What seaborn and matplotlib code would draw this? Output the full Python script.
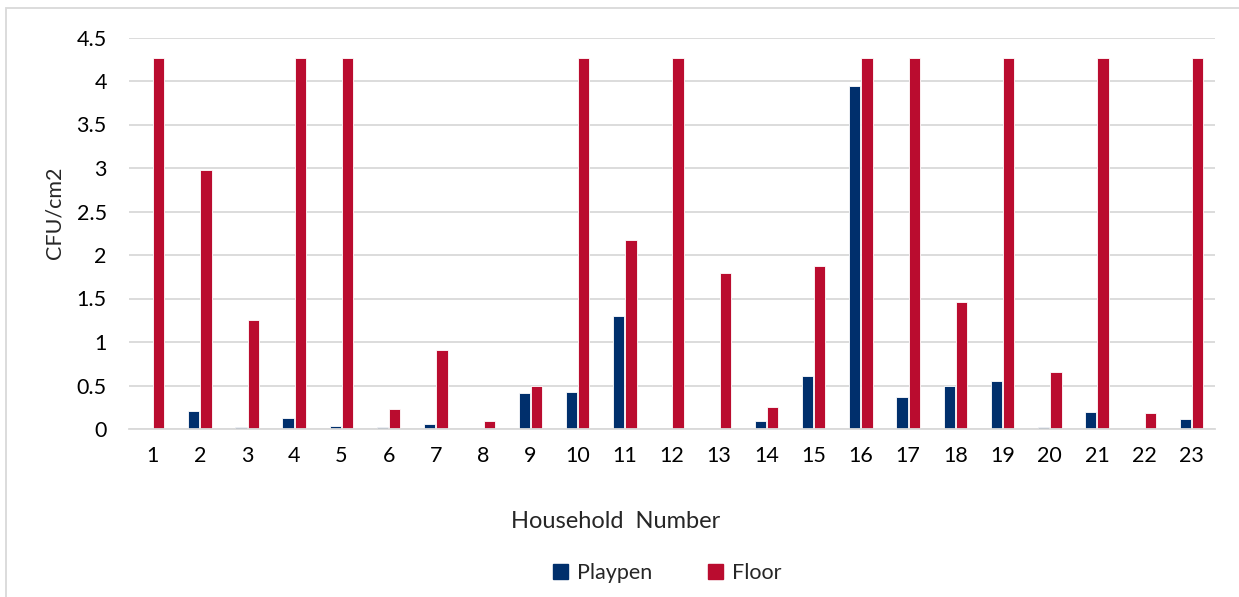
import matplotlib
matplotlib.use("Agg")
import matplotlib.pyplot as plt
import seaborn as sns
import pandas as pd
from matplotlib.patches import Rectangle

# CFU/cm2 measured per household, playpen vs floor surfaces
households = [str(i) for i in range(1, 24)]
playpen = [0.00, 0.21, 0.02, 0.13, 0.03, 0.02, 0.06, 0.00, 0.41, 0.43, 1.30, 0.00,
           0.00, 0.09, 0.61, 3.94, 0.37, 0.49, 0.55, 0.02, 0.19, 0.00, 0.12]
floor = [4.26, 2.98, 1.25, 4.26, 4.26, 0.23, 0.91, 0.09, 0.49, 4.26, 2.17, 4.26,
         1.79, 0.25, 1.87, 4.26, 4.26, 1.46, 4.26, 0.66, 4.26, 0.18, 4.26]
series_names = ["Playpen", "Floor"]
colors = ["#002F6C", "#BA0C2F"]

df = pd.DataFrame({
    "Household": households * 2,
    "CFU": playpen + floor,
    "Location": [series_names[0]] * len(households) + [series_names[1]] * len(households),
})

sns.set_theme(style="white")
plt.rcParams["font.family"] = ["Lato", "DejaVu Sans"]

W, H = 1239, 597
fig = plt.figure(figsize=(W / 100, H / 100), dpi=100)
ax = fig.add_axes([129 / W, 1 - 429 / H, (1215 - 129) / W, (429 - 37.5) / H])

sns.barplot(data=df, x="Household", y="CFU", hue="Location", order=households,
            hue_order=series_names, palette=colors, width=0.52, gap=0.08,
            edgecolor="white", linewidth=0.6, saturation=1, ax=ax, legend=False)

ax.set_xlim(-0.5, len(households) - 0.5)
ax.set_ylim(0, 4.5)
ax.set_yticks([0, 0.5, 1, 1.5, 2, 2.5, 3, 3.5, 4, 4.5])
ax.set_yticklabels(["0", "0.5", "1", "1.5", "2", "2.5", "3", "3.5", "4", "4.5"])
ax.yaxis.grid(True, color="#d9d9d9", linewidth=1.3)
ax.set_axisbelow(True)
for side in ["left", "right", "top"]:
    ax.spines[side].set_visible(False)
ax.spines["bottom"].set_color("#d9d9d9")
ax.spines["bottom"].set_linewidth(1.3)
ax.tick_params(axis="both", length=0, labelsize=15.5, colors="black")
ax.tick_params(axis="x", pad=12)
ax.tick_params(axis="y", pad=16)

ax.set_xlabel("Household  Number", fontsize=17)
ax.xaxis.set_label_coords((616 - 129) / (1215 - 129), (429 - 522) / (429 - 37.5))
ax.xaxis.label.set_va("center")
ax.set_ylabel("CFU/cm2", fontsize=15.5)
ax.yaxis.set_label_coords((55 - 129) / (1215 - 129), (429 - 213) / (429 - 37.5))
ax.yaxis.label.set_va("center")

handles = [Rectangle((0, 0), 1, 1, color=c) for c in colors]
fig.legend(handles, series_names, loc="center", bbox_to_anchor=(667 / W, 1 - 573 / H),
           ncol=2, frameon=False, fontsize=15.5, handlelength=0.7, handleheight=0.7,
           handletextpad=0.4, columnspacing=2.6)

# outer chart border
fig.patches.append(Rectangle((6 / W, -0.05), 1.1, 1 - 8 / H + 0.05,
                             transform=fig.transFigure, fill=False,
                             edgecolor="#d9d9d9", linewidth=1.3))

fig.savefig("out.png", dpi=100)
